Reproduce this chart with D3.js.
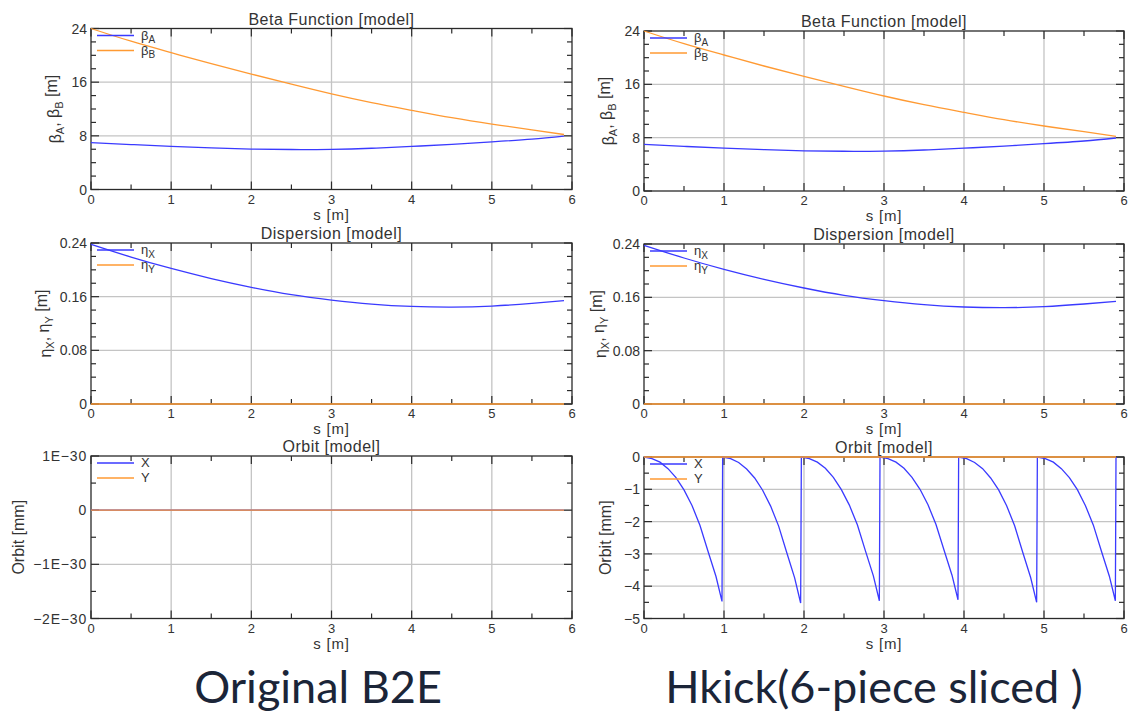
<!DOCTYPE html>
<html>
<head>
<meta charset="utf-8">
<script src="https://cdn.jsdelivr.net/npm/d3@7"></script>
<style>
  body { margin: 0; background: #fff; }
  svg { display: block; }
  text { font-family: "Liberation Sans", Arial, sans-serif; fill: #333; }
  .caption { font-family: Lato, "Open Sans", sans-serif; fill: #1b2538; }
</style>
</head>
<body>
<svg id="chart" width="1135" height="713"></svg>
<script>
// ---- optics along the element (s in metres) ----
const sPoints = [0, 0.5, 1, 1.5, 2, 2.5, 3, 3.5, 4, 4.5, 5, 5.5, 5.9];
const betaA   = [7.0, 6.7, 6.42, 6.2, 6.03, 5.96, 5.99, 6.15, 6.42, 6.74, 7.1, 7.5, 7.95];
const betaB   = [24.0, 22.1, 20.4, 18.75, 17.2, 15.7, 14.25, 12.95, 11.8, 10.7, 9.75, 8.9, 8.2];
const etaX    = [0.238, 0.219, 0.202, 0.187, 0.174, 0.163, 0.155, 0.149, 0.1455, 0.1445, 0.146, 0.150, 0.154];
const etaY    = [0, 0, 0, 0, 0, 0, 0, 0, 0, 0, 0, 0, 0];

// ---- closed orbit, unsliced element [mm] ----
const orbitOrigS = [0, 5.9];
const orbitOrigX = [0, 0];
const orbitOrigY = [0, 0];

// ---- closed orbit, element cut into 6 slices with a kick per slice [mm] ----
const orbitKickS = [
  0.000, 0.100, 0.200, 0.300, 0.400, 0.500, 0.600, 0.700, 0.800, 0.900, 0.975,
  0.983, 1.083, 1.183, 1.283, 1.383, 1.483, 1.583, 1.683, 1.783, 1.883, 1.958,
  1.967, 2.067, 2.167, 2.267, 2.367, 2.467, 2.567, 2.667, 2.767, 2.867, 2.942,
  2.950, 3.050, 3.150, 3.250, 3.350, 3.450, 3.550, 3.650, 3.750, 3.850, 3.925,
  3.933, 4.033, 4.133, 4.233, 4.333, 4.433, 4.533, 4.633, 4.733, 4.833, 4.908,
  4.917, 5.017, 5.117, 5.217, 5.317, 5.417, 5.517, 5.617, 5.717, 5.817, 5.892,
  5.900
];
const orbitKickX = [
  0, -0.05, -0.16, -0.36, -0.64, -1.02, -1.50, -2.12, -2.92, -3.70, -4.47,
  0, -0.05, -0.17, -0.37, -0.65, -1.03, -1.52, -2.14, -2.95, -3.74, -4.52,
  0, -0.05, -0.16, -0.35, -0.63, -1.01, -1.49, -2.10, -2.90, -3.68, -4.45,
  0, -0.05, -0.16, -0.35, -0.63, -1.00, -1.48, -2.09, -2.88, -3.66, -4.42,
  0, -0.05, -0.17, -0.36, -0.65, -1.02, -1.51, -2.13, -2.94, -3.73, -4.50,
  0, -0.05, -0.16, -0.36, -0.64, -1.01, -1.50, -2.11, -2.91, -3.69, -4.45,
  0
];
const orbitKickY = [0, 0];
const orbitKickYS = [0, 5.9];

// ---- tick values and labels ----
const sTicks = [0, 1, 2, 3, 4, 5, 6];
const betaTicks = [0, 8, 16, 24];
const etaTicks = [0, 0.08, 0.16, 0.24];
const etaTickLabels = ["0", "0.08", "0.16", "0.24"];
const orbitOrigTicks = [1e-30, 0, -1e-30, -2e-30];
const orbitOrigTickLabels = ["1E\u221230", "0", "\u22121E\u221230", "\u22122E\u221230"];
const orbitKickTicks = [0, -1, -2, -3, -4, -5];
const orbitKickTickLabels = ["0", "\u22121", "\u22122", "\u22123", "\u22124", "\u22125"];

const BLUE = "#3a3aff";
const ORANGE = "#ff9a33";

const svg = d3.select("#chart");
svg.append("rect").attr("width", 1135).attr("height", 713).attr("fill", "#fff");

const zip = (xs, ys) => xs.map((x, i) => [x, ys[i]]);

// a label like  β_A, β_B [m]  given as parts [text, isSubscript]
function richText(sel, parts, subSize) {
  parts.forEach(([t, sub], i) => {
    const ts = sel.append("tspan").text(t);
    if (sub) ts.attr("font-size", subSize).attr("dy", "0.35em");
    else if (i > 0 && parts[i - 1][1]) ts.attr("dy", "-0.35em");
  });
}

function drawPanel(p) {
  const g = svg.append("g");
  const x = d3.scaleLinear().domain([0, 6]).range([p.x0, p.x1]);
  const y = d3.scaleLinear().domain(p.yDomain).range([p.y1, p.y0]);

  // grid
  g.append("g").selectAll("line").data(sTicks.slice(1, -1)).join("line")
    .attr("x1", d => x(d)).attr("x2", d => x(d))
    .attr("y1", p.y0).attr("y2", p.y1)
    .attr("stroke", "#c4c4c4").attr("stroke-width", 1.3);
  g.append("g").selectAll("line").data(p.yTicks.filter(d => d !== p.yDomain[0] && d !== p.yDomain[1])).join("line")
    .attr("x1", p.x0).attr("x2", p.x1)
    .attr("y1", d => y(d)).attr("y2", d => y(d))
    .attr("stroke", "#c4c4c4").attr("stroke-width", 1.3);

  // frame
  g.append("rect").attr("x", p.x0).attr("y", p.y0)
    .attr("width", p.x1 - p.x0).attr("height", p.y1 - p.y0)
    .attr("fill", "none").attr("stroke", "#2a2a2a").attr("stroke-width", 1.3);

  // ticks on all four sides, pointing inwards
  const tk = g.append("g").attr("stroke", "#2a2a2a").attr("stroke-width", 1.2);
  const xMinor = d3.range(0, 6.001, 0.5);
  xMinor.forEach(v => {
    const len = Number.isInteger(v) ? 8 : 5;
    tk.append("line").attr("x1", x(v)).attr("x2", x(v)).attr("y1", p.y1).attr("y2", p.y1 - len);
    tk.append("line").attr("x1", x(v)).attr("x2", x(v)).attr("y1", p.y0).attr("y2", p.y0 + len);
  });
  const yMin = d3.range(p.yDomain[0], p.yDomain[1] + p.yMinor * 0.001, p.yMinor);
  yMin.forEach(v => {
    const major = p.yTicks.some(t => Math.abs(t - v) < p.yMinor * 0.01);
    const len = major ? 8 : 5;
    tk.append("line").attr("x1", p.x0).attr("x2", p.x0 + len).attr("y1", y(v)).attr("y2", y(v));
    tk.append("line").attr("x1", p.x1).attr("x2", p.x1 - len).attr("y1", y(v)).attr("y2", y(v));
  });

  // x tick labels
  g.append("g").selectAll("text").data(sTicks).join("text")
    .attr("x", d => x(d)).attr("y", p.y1 + 14)
    .attr("text-anchor", "middle").attr("font-size", 13)
    .text(d => d);
  g.append("text").attr("x", (p.x0 + p.x1) / 2).attr("y", p.y1 + 30)
    .attr("text-anchor", "middle").attr("font-size", 15)
    .attr("letter-spacing", 0.8).text("s [m]");

  // y tick labels
  g.append("g").selectAll("text").data(p.yTicks).join("text")
    .attr("x", p.x0 - 4).attr("y", d => y(d)).attr("dy", "0.36em")
    .attr("text-anchor", "end").attr("font-size", 14)
    .attr("letter-spacing", p.tickSpacing || 0)
    .text((d, i) => p.yTickLabels ? p.yTickLabels[i] : d);

  // title
  g.append("text").attr("x", (p.x0 + p.x1) / 2).attr("y", p.y0 - 4)
    .attr("text-anchor", "middle").attr("font-size", 16)
    .attr("letter-spacing", 0.5).text(p.title);

  // y axis label
  const yc = (p.y0 + p.y1) / 2;
  const yl = g.append("text")
    .attr("transform", `translate(${p.yLabelX},${yc}) rotate(-90)`)
    .attr("dy", "0.35em").attr("text-anchor", "middle").attr("font-size", 16);
  richText(yl, p.yLabel, 11);

  // data
  const line = d3.line().x(d => x(d[0])).y(d => y(d[1]));
  p.series.forEach(s => {
    g.append("path").datum(s.pts)
      .attr("d", line.curve(s.curve || d3.curveLinear))
      .attr("fill", "none").attr("stroke", s.color).attr("stroke-width", 1.3);
  });

  // legend
  p.legend.forEach((L, i) => {
    const ly = p.y0 + 7 + i * 15;
    g.append("line").attr("x1", p.x0 + 6).attr("x2", p.x0 + 43)
      .attr("y1", ly).attr("y2", ly).attr("stroke", L.color).attr("stroke-width", 1.3);
    const t = g.append("text").attr("x", p.x0 + 50).attr("y", ly + 4).attr("font-size", 13);
    richText(t, L.parts, 10);
  });
}

const cols = [
  { x0: 91, x1: 572, rows: [[28.5, 189.5, 55], [243, 404, 45], [456, 618.5, 18]] },
  { x0: 644, x1: 1124, rows: [[31, 191, 608], [244, 404, 600], [457, 618.5, 605]] }
];

cols.forEach((c, ci) => {
  const [r0, r1, r2] = c.rows;
  drawPanel({
    x0: c.x0, x1: c.x1, y0: r0[0], y1: r0[1], yLabelX: r0[2],
    yDomain: [0, 24], yTicks: betaTicks, yMinor: 2,
    title: "Beta Function [model]",
    yLabel: [["\u03b2", false], ["A", true], [", \u03b2", false], ["B", true], [" [m]", false]],
    legend: [
      { color: BLUE, parts: [["\u03b2", false], ["A", true]] },
      { color: ORANGE, parts: [["\u03b2", false], ["B", true]] }
    ],
    series: [
      { pts: zip(sPoints, betaA), color: BLUE, curve: d3.curveNatural },
      { pts: zip(sPoints, betaB), color: ORANGE, curve: d3.curveNatural }
    ]
  });
  drawPanel({
    x0: c.x0, x1: c.x1, y0: r1[0], y1: r1[1], yLabelX: r1[2],
    yDomain: [0, 0.24], yTicks: etaTicks, yTickLabels: etaTickLabels, yMinor: 0.02,
    title: "Dispersion [model]",
    yLabel: [["\u03b7", false], ["X", true], [", \u03b7", false], ["Y", true], [" [m]", false]],
    legend: [
      { color: BLUE, parts: [["\u03b7", false], ["X", true]] },
      { color: ORANGE, parts: [["\u03b7", false], ["Y", true]] }
    ],
    series: [
      { pts: zip(sPoints, etaX), color: BLUE, curve: d3.curveNatural },
      { pts: zip(sPoints, etaY), color: ORANGE }
    ]
  });
  if (ci === 0) {
    drawPanel({
      x0: c.x0, x1: c.x1, y0: r2[0], y1: r2[1], yLabelX: r2[2],
      yDomain: [-2e-30, 1e-30], yTicks: orbitOrigTicks, yTickLabels: orbitOrigTickLabels,
      yMinor: 0.5e-30, tickSpacing: 0.8,
      title: "Orbit [model]",
      yLabel: [["Orbit [mm]", false]],
      legend: [
        { color: BLUE, parts: [["X", false]] },
        { color: ORANGE, parts: [["Y", false]] }
      ],
      series: [
        { pts: zip(orbitOrigS, orbitOrigX), color: BLUE },
        { pts: zip(orbitOrigS, orbitOrigY), color: ORANGE }
      ]
    });
  } else {
    drawPanel({
      x0: c.x0, x1: c.x1, y0: r2[0], y1: r2[1], yLabelX: r2[2],
      yDomain: [-5, 0], yTicks: orbitKickTicks, yTickLabels: orbitKickTickLabels, yMinor: 0.5,
      title: "Orbit [model]",
      yLabel: [["Orbit [mm]", false]],
      legend: [
        { color: BLUE, parts: [["X", false]] },
        { color: ORANGE, parts: [["Y", false]] }
      ],
      series: [
        { pts: zip(orbitKickS, orbitKickX), color: BLUE },
        { pts: zip(orbitKickYS, orbitKickY), color: ORANGE }
      ]
    });
  }
});

// captions under each column
svg.append("text").attr("class", "caption")
  .attr("x", 318).attr("y", 703).attr("text-anchor", "middle")
  .attr("font-size", 45).text("Original B2E");
svg.append("text").attr("class", "caption")
  .attr("x", 874).attr("y", 703).attr("text-anchor", "middle")
  .attr("font-size", 45).text("Hkick(6-piece sliced )");
</script>
</body>
</html>
